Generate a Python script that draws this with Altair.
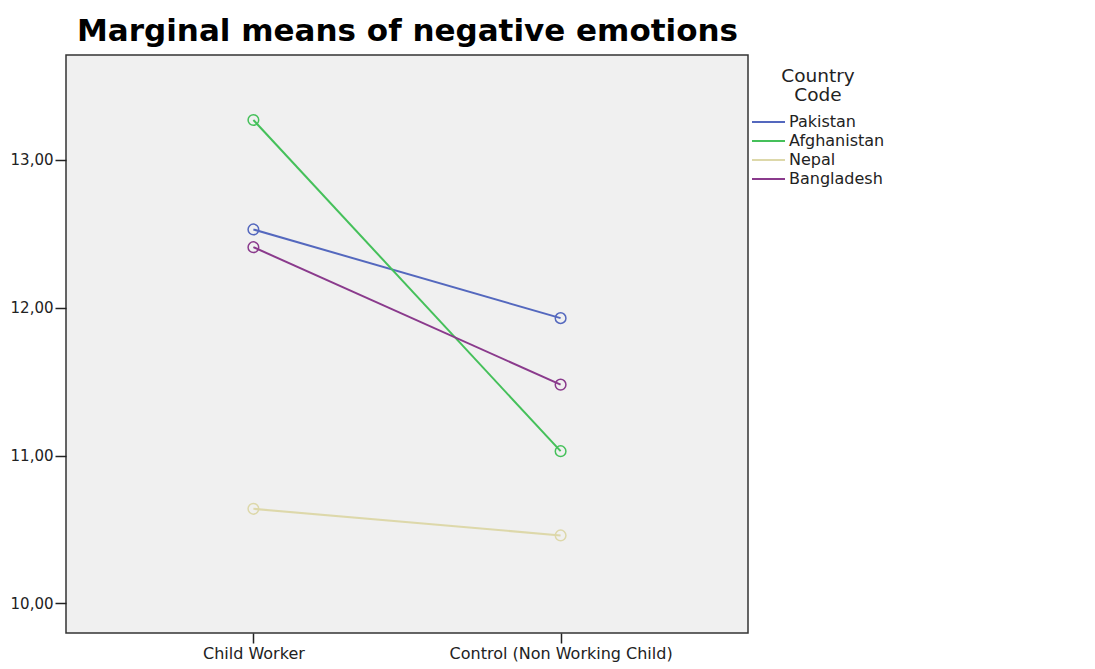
import altair as alt
import pandas as pd

conditions = ["Child Worker", "Control (Non Working Child)"]
countries = ["Pakistan", "Afghanistan", "Nepal", "Bangladesh"]
child_worker = [12.53, 13.27, 10.64, 12.41]
control = [11.93, 11.03, 10.46, 11.48]
colors = ["#5468BE", "#45C05A", "#DDD8AA", "#8A3A8C"]
y_ticks = [10, 11, 12, 13]

rows = []
for c, a, b in zip(countries, child_worker, control):
    rows.append({"country": c, "condition": conditions[0], "mean": a})
    rows.append({"country": c, "condition": conditions[1], "mean": b})
df = pd.DataFrame(rows)

x_enc = alt.X(
    "condition:N",
    sort=conditions,
    scale=alt.Scale(type="point", padding=0.61),
    axis=alt.Axis(
        title=None, labelAngle=0, domain=False, ticks=True, tickSize=10,
        tickColor="#222222", tickWidth=1.5, labelFont="DejaVu Sans",
        labelFontSize=16, labelColor="#222222", labelPadding=2, grid=False,
        labelLimit=0,
    ),
)
y_enc = alt.Y(
    "mean:Q",
    scale=alt.Scale(domain=[9.8, 13.71], nice=False, zero=False),
    axis=alt.Axis(
        title=None, values=y_ticks, domain=False, tickSize=11,
        tickColor="#222222", tickWidth=1.5, labelFont="DejaVu Sans",
        labelFontSize=15, labelColor="#222222", labelPadding=2, grid=False,
        labelExpr="replace(format(datum.value, '.2f'), '.', ',')",
    ),
)
color_enc = alt.Color(
    "country:N",
    sort=countries,
    scale=alt.Scale(domain=countries, range=colors),
    legend=alt.Legend(
        title=["Country", "Code"], orient="none", legendX=685, legendY=12,
        symbolType="stroke", symbolSize=1089, symbolStrokeWidth=2,
        titleFont="DejaVu Sans", titleFontSize=18.5, titleFontWeight="normal",
        titleColor="#222222", titleAlign="center", titleAnchor="middle",
        titleLineHeight=19, titlePadding=8,
        labelFont="DejaVu Sans", labelFontSize=16, labelColor="#222222",
        labelOffset=3, clipHeight=19, rowPadding=0,
    ),
)

lines = alt.Chart(df).mark_line(strokeWidth=2).encode(
    x=x_enc, y=y_enc, color=color_enc, detail="country:N"
)
points = alt.Chart(df).mark_point(filled=False, size=113, strokeWidth=1.5, opacity=1).encode(
    x=x_enc, y=y_enc, color=color_enc
)

chart = (
    alt.layer(lines, points)
    .properties(
        width=682,
        height=578,
        autosize=alt.AutoSizeParams(type="none"),
        padding={"left": 58, "top": 47, "right": 330, "bottom": 36},
        view=alt.ViewBackground(fill="#F0F0F0", stroke="#333333", strokeWidth=1.5),
        title=alt.TitleParams(
            "Marginal means of negative emotions",
            anchor="start", frame="group", dx=11, dy=32, offset=15,
            baseline="alphabetic", font="DejaVu Sans", fontSize=31,
            fontWeight="bold", color="#000000",
        ),
    )
    .configure(background="white")
)

chart.save("out.html", embed_options={"renderer": "svg", "actions": False})
